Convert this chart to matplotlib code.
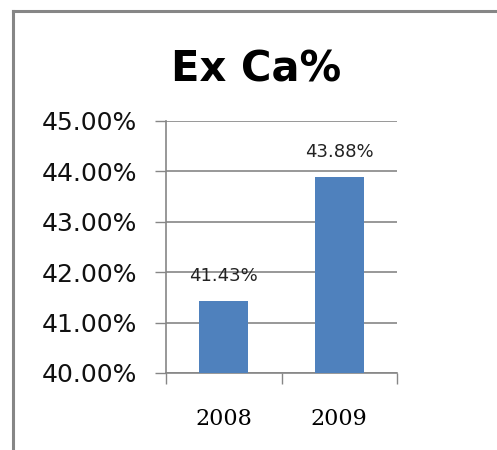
import matplotlib.pyplot as plt
from matplotlib.lines import Line2D
from matplotlib.ticker import FixedLocator

years = ['2008', '2009']
ex_ca = [41.43, 43.88]
labels = ['41.43%', '43.88%']
y_ticks = [40, 41, 42, 43, 44, 45]

grey = '#868686'
fig = plt.figure(figsize=(4.97, 4.5), dpi=100)
ax = fig.add_axes([166 / 497, 1 - 373 / 450, 231 / 497, 252 / 450])

x = list(range(len(years)))
ax.bar(x, ex_ca, width=0.42, color='#4F81BD', zorder=3)
for xi, v, lab in zip(x, ex_ca, labels):
    ax.text(xi, v + 0.5, lab, ha='center', va='center', fontsize=13, color='#222222')

ax.set_xlim(-0.5, 1.5)
ax.set_ylim(40, 45)
ax.set_yticks(y_ticks)
ax.set_yticklabels([f'{t:.2f}%' for t in y_ticks], fontsize=18, color='#111111')
ax.yaxis.grid(True, color=grey, linewidth=1.2, zorder=0)
ax.tick_params(axis='y', length=8, width=1, color=grey, pad=13)

ax.set_xticks(x)
ax.set_xticklabels(years, fontsize=16, family='DejaVu Serif')
ax.xaxis.set_minor_locator(FixedLocator([-0.5, 0.5, 1.5]))
ax.tick_params(axis='x', which='major', length=0, pad=25)
ax.tick_params(axis='x', which='minor', length=8, width=1, color=grey)

for side in ['top', 'right']:
    ax.spines[side].set_visible(False)
for side in ['left', 'bottom']:
    ax.spines[side].set_color(grey)
    ax.spines[side].set_linewidth(1.2)

fig.text(256 / 497, 1 - 70 / 450, 'Ex Ca%', ha='center', va='center',
         fontsize=30, fontweight='bold')

# outer chart border (cropped: only left and top visible)
fig.add_artist(Line2D([13 / 497, 13 / 497], [0, 1 - 11 / 450], color=grey, linewidth=2.2))
fig.add_artist(Line2D([13 / 497, 1], [1 - 11 / 450, 1 - 11 / 450], color=grey, linewidth=2.2))

fig.savefig('out.png', dpi=100)
